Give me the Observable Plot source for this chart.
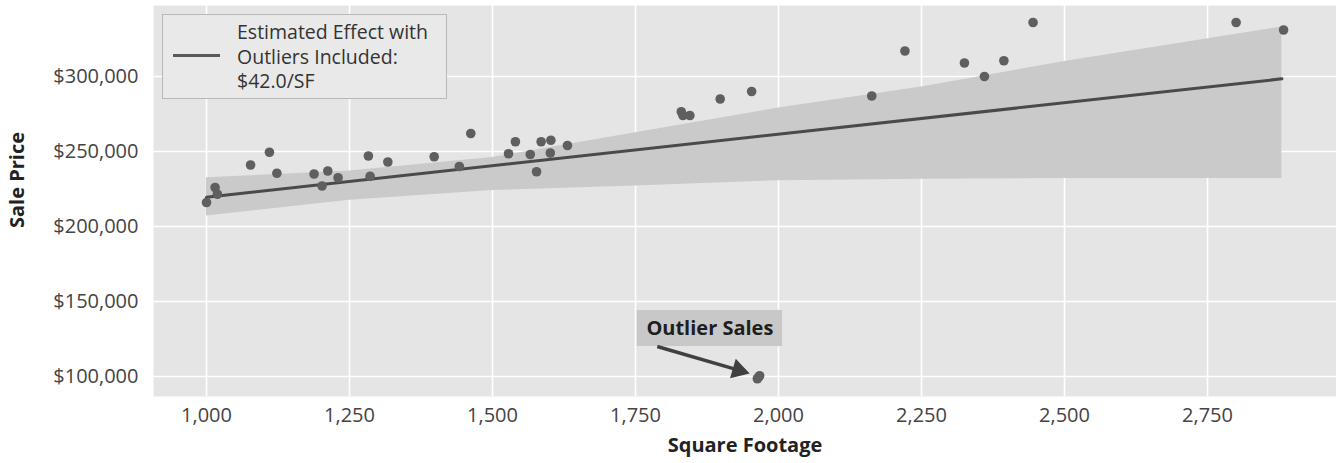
<!DOCTYPE html>
<html><head><meta charset="utf-8">
<script src="https://cdn.jsdelivr.net/npm/d3@7"></script>
<script src="https://cdn.jsdelivr.net/npm/@observablehq/plot@0.6"></script>
<style>
body{margin:0;background:#fff;font-family:"Open Sans",sans-serif;}
#wrap{position:relative;width:1336px;height:463px;}
#legend{position:absolute;left:162px;top:14px;width:283px;height:83px;background:#e9e9e9;border:1px solid #b8b8b8;box-sizing:content-box;}
#legend .swatch{position:absolute;left:10px;top:39px;width:47px;height:3px;background:#5a5a5a;}
#legend .txt{position:absolute;left:74px;top:5px;font-size:19.5px;line-height:24.5px;color:#333;white-space:nowrap;}
</style></head><body><div id="wrap"></div>
<script>
const sqft = [1000,1015,1019,1077,1110,1123,1188,1202,1212,1230,1283,1286,1317,1398,1442,1462,1528,1540,1566,1577,1585,1601,1602,1631,1830,1833,1845,1898,1953,2163,2221,2325,2360,2394,2445,2800,2883];
const price = [216000,226000,221500,241000,249500,235500,235000,227000,237000,232500,247000,233500,243000,246500,240000,262000,248500,256500,248000,236500,256500,249000,257500,254000,276500,274000,274000,285000,290000,287000,317000,309000,300000,310500,336000,336000,331000];
const outlierSqft = [1963,1967,1965];
const outlierPrice = [98500,100500,99500];
const bandSqft = [1000,1250,1500,1750,2000,2250,2500,2880];
const bandLow = [207000,217500,224000,227000,230500,231500,232000,232000];
const bandHigh = [232500,237000,246000,262500,279000,293000,310000,333000];
const fitSqft = [1000,2880];
const fitPrice = [219500,298460];
const xTicks = [1000,1250,1500,1750,2000,2250,2500,2750];
const yTicks = [100000,150000,200000,250000,300000];
const legendLines = ["Estimated Effect with","Outliers Included:","$42.0/SF"];
const annotationLabel = ["Outlier Sales"];
const annotationBoxX = [1753,2007];
const annotationBoxY = [120000,144000];
const annotationTextPos = [1880,132000];
const arrowFrom = [1788,120000];
const arrowTo = [1921,105200];
const arrowHeadAt = [1930,104200];

const points = sqft.map((x,i)=>({x, y:price[i]}));
const outliers = outlierSqft.map((x,i)=>({x, y:outlierPrice[i]}));
const band = bandSqft.map((x,i)=>({x, lo:bandLow[i], hi:bandHigh[i]}));
const fit = fitSqft.map((x,i)=>({x, y:fitPrice[i]}));
const annot = [{x1:annotationBoxX[0], x2:annotationBoxX[1], y1:annotationBoxY[0], y2:annotationBoxY[1],
  tx:annotationTextPos[0], ty:annotationTextPos[1], label:annotationLabel[0],
  ax1:arrowFrom[0], ay1:arrowFrom[1], ax2:arrowTo[0], ay2:arrowTo[1],
  hx:arrowHeadAt[0], hy:arrowHeadAt[1]}];

const chart = Plot.plot({
  width:1336, height:463,
  marginLeft:153, marginRight:0, marginTop:5, marginBottom:67,
  style:{fontFamily:"'Open Sans', sans-serif", fontSize:"20px", color:"#444", background:"#fff"},
  x:{domain:[907.3,2975.5]},
  y:{domain:[86667,347333]},
  marks:[
    Plot.frame({fill:"#e5e5e5", stroke:null}),
    Plot.gridX(xTicks,{stroke:"#ffffff", strokeOpacity:1, strokeWidth:1.6}),
    Plot.gridY(yTicks,{stroke:"#ffffff", strokeOpacity:1, strokeWidth:1.6}),
    Plot.areaY(band,{x:"x", y1:"lo", y2:"hi", fill:"#cacaca", curve:"linear"}),
    Plot.line(fit,{x:"x", y:"y", stroke:"#4a4a4a", strokeWidth:3}),
    Plot.rect(annot,{x1:"x1", x2:"x2", y1:"y1", y2:"y2", fill:"#c8c8c8"}),
    Plot.text(annot,{x:"tx", y:"ty", text:"label", fontWeight:"bold", fontSize:20, fill:"#1e1e1e"}),
    Plot.link(annot,{x1:"ax1", y1:"ay1", x2:"ax2", y2:"ay2", stroke:"#404040", strokeWidth:3.4}),
    Plot.dot(annot,{x:"hx", y:"hy", symbol:"triangle", r:7.5, rotate:106.4, fill:"#404040", stroke:null}),
    Plot.dot(points,{x:"x", y:"y", r:4.8, fill:"#5f5f5f", stroke:null}),
    Plot.dot(outliers,{x:"x", y:"y", r:4.8, fill:"#5f5f5f", stroke:null}),
    Plot.axisX(xTicks,{tickSize:0, tickPadding:11, tickFormat:d3.format(","), label:null}),
    Plot.axisY(yTicks,{tickSize:0, tickPadding:15, tickFormat:d=>"$"+d3.format(",")(d), label:null}),
    Plot.text(["Square Footage"],{frameAnchor:"bottom", dy:55, fontWeight:"bold", fontSize:20, fill:"#222", text:d=>d}),
    Plot.text(["Sale Price"],{frameAnchor:"left", dx:-136, dy:27, rotate:-90, fontWeight:"bold", fontSize:20, fill:"#222", text:d=>d})
  ]
});
const wrap = document.getElementById("wrap");
wrap.appendChild(chart);
const leg = document.createElement("div");
leg.id = "legend";
leg.innerHTML = '<div class="swatch"></div><div class="txt">' + legendLines.join("<br>") + '</div>';
wrap.appendChild(leg);
</script></body></html>
